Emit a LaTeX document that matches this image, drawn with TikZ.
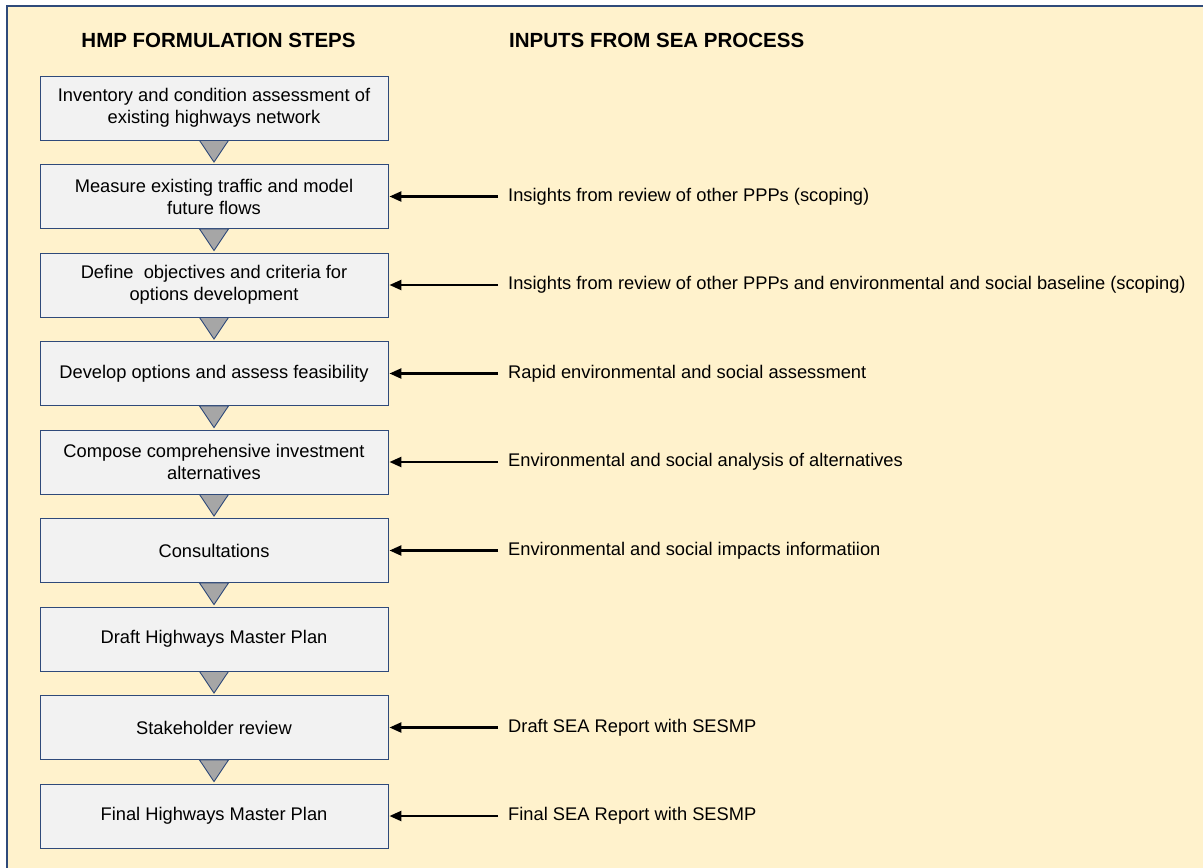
\documentclass[tikz,border=0pt]{standalone}
\usepackage{fontspec}
\setmainfont{Liberation Sans}
\usetikzlibrary{arrows.meta,calc}
\definecolor{panelfill}{HTML}{FFF2CC}
\definecolor{navy}{HTML}{2F4A7A}
\definecolor{boxfill}{HTML}{F2F2F2}
\definecolor{tipfill}{HTML}{A6A6A6}
\tikzset{
  stepbox/.style={draw=navy, line width=0.9pt, fill=boxfill, minimum width=348pt,
    minimum height=64pt, inner sep=0pt, align=center,
    font=\fontsize{18.3}{22}\selectfont},
  heading/.style={font=\fontsize{20.5}{22}\selectfont\bfseries, inner sep=0pt},
  inputtext/.style={anchor=west, inner sep=0pt, font=\fontsize{18.3}{22}\selectfont},
  feed/.style={line width=2.4pt, -{Triangle[length=12pt,width=10pt]}},
  flowtip/.style={draw=navy, line width=0.9pt, fill=tipfill, line join=miter}
}
\begin{document}
\begin{tikzpicture}[x=1pt,y=-1pt]
\useasboundingbox (0,0) rectangle (1203,868);
\begin{scope}
\clip (0,0) rectangle (1203,868);
\fill[white] (0,0) rectangle (1203,868);
\draw[navy, line width=1.6pt, fill=panelfill] (7,6) rectangle (1230,900);
\end{scope}

% column headings
\node[heading] (h1) at (218.5,40.5) {HMP FORMULATION STEPS};
\node[heading, anchor=west] (h2) at (509,40.5) {INPUTS FROM SEA PROCESS};

% formulation steps
\node[stepbox] (s1) at (214,108)   {Inventory and condition assessment of\\existing highways network};
\node[stepbox] (s2) at (214,196.5) {Measure existing traffic and model\\future flows};
\node[stepbox] (s3) at (214,285)   {Define~ objectives and criteria for\\options development};
\node[stepbox] (s4) at (214,373.5) {Develop options and assess feasibility};
\node[stepbox] (s5) at (214,462)   {Compose comprehensive investment\\alternatives};
\node[stepbox] (s6) at (214,550.5) {Consultations};
\node[stepbox] (s7) at (214,639)   {Draft Highways Master Plan};
\node[stepbox] (s8) at (214,727.5) {Stakeholder review};
\node[stepbox] (s9) at (214,816)   {Final Highways Master Plan};

% downward flow markers between steps
\foreach \a/\b in {s1/s2,s2/s3,s3/s4,s4/s5,s5/s6,s6/s7,s7/s8,s8/s9}{
  \draw[flowtip] ($(\a.south)+(-14.5,0)$) -- ($(\a.south)+(14.5,0)$)
    -- ($(\b.north)+(0,-2)$) -- cycle;
}

% inputs from the SEA process
\node[inputtext] (i2) at (508,196.5) {Insights from review of other PPPs (scoping)};
\node[inputtext] (i3) at (508,285)   {Insights from review of other PPPs and environmental and social baseline (scoping)};
\node[inputtext] (i4) at (508,373.5) {Rapid environmental and social assessment};
\node[inputtext] (i5) at (508,462)   {Environmental and social analysis of alternatives};
\node[inputtext] (i6) at (508,550.5) {Environmental and social impacts informatiion};
\node[inputtext] (i8) at (508,727.5) {Draft SEA Report with SESMP};
\node[inputtext] (i9) at (508,816)   {Final SEA Report with SESMP};

\foreach \k in {2,3,4,5,6,8,9}{
  \draw[feed] ($(i\k.west)+(-10,0)$) -- ($(s\k.east)+(1,0)$);
}
\end{tikzpicture}
\end{document}
